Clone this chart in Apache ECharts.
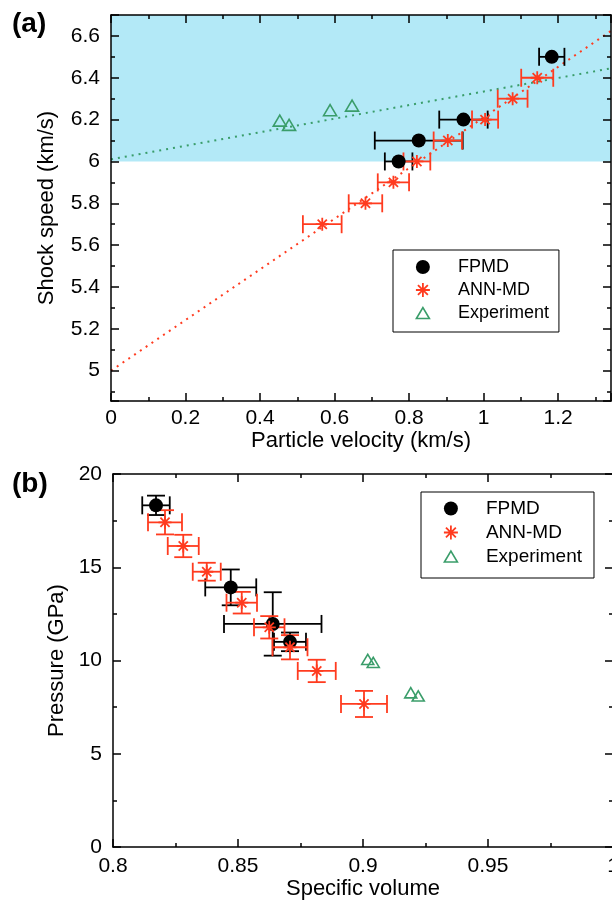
<!DOCTYPE html>
<html><head><meta charset="utf-8">
<script src="https://cdn.jsdelivr.net/npm/echarts@6/dist/echarts.min.js"></script>
<style>html,body{margin:0;padding:0;background:#fff}#c{width:612px;height:908px}</style>
</head><body><div id="c"></div>
<script>
// ---------- Panel (a): shock speed vs particle velocity ----------
const fpmdA_up    = [1.183, 0.946, 0.826, 0.772];
const fpmdA_us    = [6.5, 6.2, 6.1, 6.0];
const fpmdA_upErr = [0.034, 0.065, 0.118, 0.037];

const annA_up    = [1.144, 1.078, 1.004, 0.904, 0.821, 0.758, 0.683, 0.567];
const annA_us    = [6.4, 6.3, 6.2, 6.1, 6.0, 5.9, 5.8, 5.7];
const annA_upErr = [0.043, 0.040, 0.035, 0.038, 0.036, 0.042, 0.045, 0.052];

const expA_up = [0.453, 0.478, 0.588, 0.647];
const expA_us = [6.195, 6.175, 6.245, 6.267];

const annFit_up = [0, 1.342];
const annFit_us = [5.0, 6.624];
const expFit_up = [0, 1.342];
const expFit_us = [6.01, 6.445];

const shadedA = [6.0, 6.7];

// ---------- Panel (b): pressure vs specific volume ----------
const fpmdB_v    = [0.8172, 0.8471, 0.8639, 0.8708];
const fpmdB_p    = [18.32, 13.92, 11.96, 11.0];
const fpmdB_vErr = [0.0055, 0.0102, 0.0195, 0.0064];
const fpmdB_pErr = [0.52, 0.96, 1.70, 0.50];

const annB_v    = [0.8208, 0.8281, 0.8375, 0.8515, 0.8625, 0.8708, 0.8815, 0.9004];
const annB_p    = [17.41, 16.14, 14.76, 13.10, 11.78, 10.71, 9.44, 7.67];
const annB_vErr = [0.0068, 0.0062, 0.0056, 0.0061, 0.0061, 0.0070, 0.0076, 0.0092];
const annB_pErr = [0.65, 0.60, 0.48, 0.58, 0.60, 0.65, 0.60, 0.70];

const expB_v = [0.9019, 0.9041, 0.9191, 0.9221];
const expB_p = [10.06, 9.90, 8.27, 8.10];

// ---------- styling ----------
const FONT = 'Liberation Sans';
const RED = '#ff3b1f', BLACK = '#000000', GREEN = '#3a9d6a', BLUE = '#b3e9f7';
const STAR = 'path://M-6,0L6,0M0,-6L0,6M-4.24,-4.24L4.24,4.24M-4.24,4.24L4.24,-4.24';
const TRI = 'path://M-6.5,5.5L0,-5.5L6.5,5.5Z';
const TRI_LEG = 'path://M-7,-7M7,7M-6.5,5.5L0,-5.5L6.5,5.5Z';

const zip = (...arrs) => arrs[0].map((_, i) => arrs.map(a => a[i]));

function errRender(color, cap) {
  return function (params, api) {
    const x = api.value(0), y = api.value(1), ex = api.value(2), ey = api.value(3);
    const st = { stroke: color, lineWidth: 1.8, fill: null };
    const ch = [];
    if (ex > 0) {
      const a = api.coord([x - ex, y]), b = api.coord([x + ex, y]);
      ch.push({ type: 'line', shape: { x1: a[0], y1: a[1], x2: b[0], y2: b[1] }, style: st });
      ch.push({ type: 'line', shape: { x1: a[0], y1: a[1] - cap, x2: a[0], y2: a[1] + cap }, style: st });
      ch.push({ type: 'line', shape: { x1: b[0], y1: b[1] - cap, x2: b[0], y2: b[1] + cap }, style: st });
    }
    if (ey > 0) {
      const a = api.coord([x, y - ey]), b = api.coord([x, y + ey]);
      ch.push({ type: 'line', shape: { x1: a[0], y1: a[1], x2: b[0], y2: b[1] }, style: st });
      ch.push({ type: 'line', shape: { x1: a[0] - cap, y1: a[1], x2: a[0] + cap, y2: a[1] }, style: st });
      ch.push({ type: 'line', shape: { x1: b[0] - cap, y1: b[1], x2: b[0] + cap, y2: b[1] }, style: st });
    }
    return { type: 'group', children: ch };
  };
}

function axisBase(extra) {
  return Object.assign({
    type: 'value', z: 10,
    axisLine: { show: true, onZero: false, lineStyle: { color: BLACK, width: 1.5 } },
    axisTick: { show: true, inside: true, length: 8, lineStyle: { color: BLACK, width: 1.5 } },
    minorTick: { show: true, splitNumber: 2, length: 4, lineStyle: { color: BLACK, width: 1.5 } },
    splitLine: { show: false },
    axisLabel: { color: BLACK, fontSize: 21, fontFamily: FONT },
    nameTextStyle: { color: BLACK, fontSize: 22, fontFamily: FONT }
  }, extra);
}

function legendData() {
  return [
    { name: 'FPMD', icon: 'circle', itemStyle: { color: BLACK } },
    { name: 'ANN-MD', icon: STAR, itemStyle: { color: RED, borderColor: RED, borderWidth: 1.8 } },
    { name: 'Experiment', icon: TRI_LEG, itemStyle: { color: 'rgba(0,0,0,0)', borderColor: GREEN, borderWidth: 1.6 } }
  ];
}

const chart = echarts.init(document.getElementById('c'), null, { renderer: 'canvas' });

const option = {
  backgroundColor: '#fff',
  animation: false,
  textStyle: { fontFamily: FONT },
  grid: [
    { left: 111, top: 15, width: 500, height: 386, containLabel: false, outerBoundsMode: 'none' },
    { left: 113, top: 474, width: 500, height: 373, containLabel: false, outerBoundsMode: 'none' }
  ],
  xAxis: [
    axisBase({ gridIndex: 0, position: 'bottom', min: 0, max: 1.342, interval: 0.2,
      axisLabel: { color: BLACK, fontSize: 21, fontFamily: FONT, margin: 7, showMaxLabel: false },
      name: 'Particle velocity (km/s)', nameLocation: 'middle', nameGap: 27 }),
    axisBase({ gridIndex: 0, position: 'top', min: 0, max: 1.342, interval: 0.2, axisLabel: { show: false } }),
    axisBase({ gridIndex: 1, position: 'bottom', min: 0.8, max: 1.0, interval: 0.05,
      axisLabel: { color: BLACK, fontSize: 21, fontFamily: FONT, margin: 9 },
      name: 'Specific volume', nameLocation: 'middle', nameGap: 31 }),
    axisBase({ gridIndex: 1, position: 'top', min: 0.8, max: 1.0, interval: 0.05, axisLabel: { show: false } })
  ],
  yAxis: [
    axisBase({ gridIndex: 0, position: 'left', min: 4.855, max: 6.7, splitNumber: 9,
      axisLabel: { color: BLACK, fontSize: 21, fontFamily: FONT, margin: 11, showMinLabel: false, showMaxLabel: false },
      name: 'Shock speed (km/s)', nameLocation: 'middle', nameGap: 53 }),
    axisBase({ gridIndex: 0, position: 'right', min: 4.855, max: 6.7, splitNumber: 9, axisLabel: { show: false } }),
    axisBase({ gridIndex: 1, position: 'left', min: 0, max: 20, interval: 5,
      axisLabel: { color: BLACK, fontSize: 21, fontFamily: FONT, margin: 11 },
      name: 'Pressure (GPa)', nameLocation: 'middle', nameGap: 43 }),
    axisBase({ gridIndex: 1, position: 'right', min: 0, max: 20, interval: 5, axisLabel: { show: false } })
  ],
  legend: [
    {
      left: 393, top: 250, orient: 'vertical',
      borderColor: BLACK, borderWidth: 1, borderRadius: 0,
      padding: [8, 10, 10, 22], itemWidth: 60, itemHeight: 14, itemGap: 5,
      textStyle: { fontSize: 18, color: BLACK, fontFamily: FONT },
      data: legendData(), selectedMode: false
    },
    {
      left: 421, top: 492, orient: 'vertical',
      borderColor: BLACK, borderWidth: 1, borderRadius: 0,
      padding: [7, 12, 12, 22], itemWidth: 60, itemHeight: 14, itemGap: 5,
      textStyle: { fontSize: 19, color: BLACK, fontFamily: FONT },
      data: legendData(), selectedMode: false
    }
  ],
  graphic: [
    { type: 'text', left: 12, top: 10, style: { text: '(a)', font: 'bold 28px "Liberation Sans"', fill: BLACK } },
    { type: 'text', left: 12, top: 470, style: { text: '(b)', font: 'bold 28px "Liberation Sans"', fill: BLACK } }
  ],
  series: [
    // ---- panel (a)
    { type: 'line', name: 'Expt fit', xAxisIndex: 0, yAxisIndex: 0, z: 1,
      data: zip(expFit_up, expFit_us), showSymbol: false, symbol: 'none',
      lineStyle: { color: GREEN, width: 2, type: [2, 5] },
      markArea: { silent: true, itemStyle: { color: BLUE, opacity: 1 },
        data: [[{ yAxis: shadedA[0] }, { yAxis: shadedA[1] }]] } },
    { type: 'line', name: 'ANN fit', xAxisIndex: 0, yAxisIndex: 0, z: 1,
      data: zip(annFit_up, annFit_us), showSymbol: false, symbol: 'none',
      lineStyle: { color: RED, width: 2, type: [2, 5] } },
    { type: 'custom', name: 'FPMD err a', xAxisIndex: 0, yAxisIndex: 0, z: 3,
      renderItem: errRender(BLACK, 9), encode: { x: 0, y: 1 },
      data: zip(fpmdA_up, fpmdA_us, fpmdA_upErr, fpmdA_up.map(() => 0)) },
    { type: 'custom', name: 'ANN err a', xAxisIndex: 0, yAxisIndex: 0, z: 3,
      renderItem: errRender(RED, 9), encode: { x: 0, y: 1 },
      data: zip(annA_up, annA_us, annA_upErr, annA_up.map(() => 0)) },
    { type: 'scatter', name: 'FPMD', xAxisIndex: 0, yAxisIndex: 0, z: 4,
      symbol: 'circle', symbolSize: 14, itemStyle: { color: BLACK, opacity: 1 },
      data: zip(fpmdA_up, fpmdA_us) },
    { type: 'scatter', name: 'ANN-MD', xAxisIndex: 0, yAxisIndex: 0, z: 4,
      symbol: STAR, symbolSize: 13, symbolKeepAspect: true,
      itemStyle: { color: RED, borderColor: RED, borderWidth: 1.8, opacity: 1 },
      data: zip(annA_up, annA_us) },
    { type: 'scatter', name: 'Experiment', xAxisIndex: 0, yAxisIndex: 0, z: 4,
      symbol: TRI, symbolSize: 13, symbolKeepAspect: true,
      itemStyle: { color: 'rgba(0,0,0,0)', borderColor: GREEN, borderWidth: 1.6, opacity: 1 },
      data: zip(expA_up, expA_us) },
    // ---- panel (b)
    { type: 'custom', name: 'FPMD err b', xAxisIndex: 2, yAxisIndex: 2, z: 3,
      renderItem: errRender(BLACK, 9), encode: { x: 0, y: 1 },
      data: zip(fpmdB_v, fpmdB_p, fpmdB_vErr, fpmdB_pErr) },
    { type: 'custom', name: 'ANN err b', xAxisIndex: 2, yAxisIndex: 2, z: 3,
      renderItem: errRender(RED, 9), encode: { x: 0, y: 1 },
      data: zip(annB_v, annB_p, annB_vErr, annB_pErr) },
    { type: 'scatter', name: 'FPMD', xAxisIndex: 2, yAxisIndex: 2, z: 4,
      symbol: 'circle', symbolSize: 14, itemStyle: { color: BLACK, opacity: 1 },
      data: zip(fpmdB_v, fpmdB_p) },
    { type: 'scatter', name: 'ANN-MD', xAxisIndex: 2, yAxisIndex: 2, z: 4,
      symbol: STAR, symbolSize: 13, symbolKeepAspect: true,
      itemStyle: { color: RED, borderColor: RED, borderWidth: 1.8, opacity: 1 },
      data: zip(annB_v, annB_p) },
    { type: 'scatter', name: 'Experiment', xAxisIndex: 2, yAxisIndex: 2, z: 4,
      symbol: TRI, symbolSize: 12, symbolKeepAspect: true,
      itemStyle: { color: 'rgba(0,0,0,0)', borderColor: GREEN, borderWidth: 1.6, opacity: 1 },
      data: zip(expB_v, expB_p) }
  ]
};
chart.setOption(option);
</script>
</body></html>
